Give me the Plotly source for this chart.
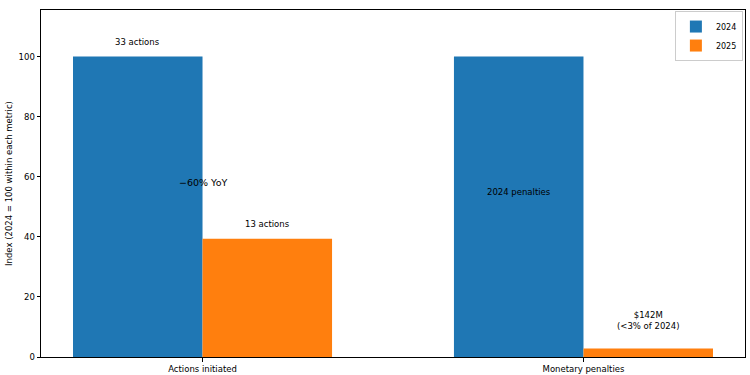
import plotly.graph_objects as go

categories = ["Actions initiated", "Monetary penalties"]
values_2024 = [100, 100]
values_2025 = [39.4, 2.8]
labels_2024 = ["33 actions", "2024 penalties"]
labels_2025 = ["13 actions", "$142M<br>(<3% of 2024)"]
yticks = [0, 20, 40, 60, 80, 100]

BLUE = "#1f77b4"
ORANGE = "#ff7f0e"
FONT = "DejaVu Sans"
W = 0.34

xs = list(range(len(categories)))

fig = go.Figure()
fig.add_trace(go.Bar(x=[x - W / 2 for x in xs], y=values_2024, width=W, name="2024",
                     marker=dict(color=BLUE, line=dict(width=0))))
fig.add_trace(go.Bar(x=[x + W / 2 for x in xs], y=values_2025, width=W, name="2025",
                     marker=dict(color=ORANGE, line=dict(width=0))))

tf = dict(family=FONT, size=8.5, color="#000000")
fig.add_annotation(x=xs[0] - W / 2, y=values_2024[0] + 5, text=labels_2024[0], showarrow=False, font=tf)
fig.add_annotation(x=xs[0] + W / 2, y=values_2025[0] + 5, text=labels_2025[0], showarrow=False, font=tf)
fig.add_annotation(x=xs[1] - W / 2, y=55, text=labels_2024[1], showarrow=False, font=tf)
fig.add_annotation(x=xs[1] + W / 2, y=values_2025[1] + 9.5, text=labels_2025[1], showarrow=False, font=tf)
fig.add_annotation(x=xs[0], y=58, text="\u221260% YoY", showarrow=False,
                   font=dict(family=FONT, size=9.5, color="#000000"))

fig.update_layout(
    width=750, height=375,
    margin=dict(l=41, r=5, t=10, b=18),
    paper_bgcolor="white", plot_bgcolor="white",
    font=dict(family=FONT, size=8.5, color="#000000"),
    barmode="overlay",
    showlegend=True,
    legend=dict(x=0.997, y=0.997, xanchor="right", yanchor="top",
                bgcolor="white", bordercolor="#cccccc", borderwidth=1,
                font=dict(family=FONT, size=8), tracegroupgap=0,
                itemwidth=30),
    xaxis=dict(range=[-0.424, 1.424], tickvals=xs, ticktext=categories,
               automargin=False,
               showgrid=False, zeroline=False, showline=True, linecolor="#000000",
               linewidth=1, mirror=True, ticks="outside", ticklen=3.5, tickcolor="#000000"),
    yaxis=dict(range=[0, 115.5], tickvals=yticks, showgrid=False, zeroline=False,
               automargin=False,
               showline=True, linecolor="#000000", linewidth=1, mirror=True,
               ticks="outside", ticklen=3.5, tickcolor="#000000",
               title=dict(text="Index (2024 = 100 within each metric)",
                          font=dict(family=FONT, size=8.5), standoff=4)),
)

fig.write_html("out.html", config={"displayModeBar": False},
               post_script="document.body.style.margin='0';")
